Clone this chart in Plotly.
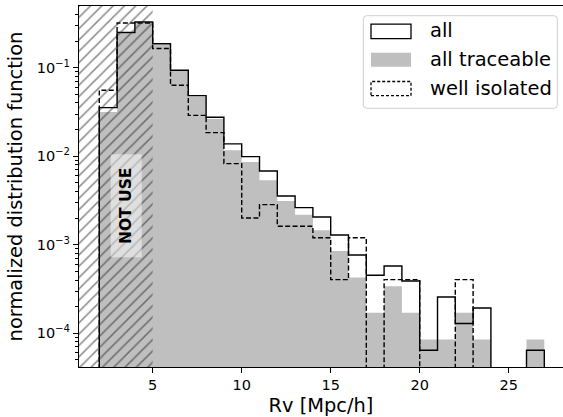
import plotly.graph_objects as go

# ---------------- data ----------------
BIN_EDGES = list(range(2, 28))  # bins of width 1 from 2 to 27 Mpc/h

ALL = [0.0355, 0.25, 0.329, 0.187, 0.0937, 0.0485, 0.0276, 0.0138, 0.0099,
       0.00682, 0.00356, 0.00263, 0.00206, 0.00129, 7.67e-4, 4.52e-4, 5.75e-4,
       3.9e-4, 6.43e-5, 2.57e-4, 1.29e-4, 1.93e-4, 0, 0, 6.43e-5]

ALL_TRACEABLE = [0.0317, 0.245, 0.32, 0.182, 0.092, 0.0475, 0.0264, 0.0117,
                 0.00863, 0.00536, 0.00313, 0.00219, 0.00146, 8.5e-4, 4.26e-4,
                 1.71e-4, 3.4e-4, 1.71e-4, 8.5e-5, 8.5e-5, 1.71e-4, 8.5e-5,
                 0, 0, 8.5e-5]

WELL_ISOLATED = [0.0557, 0.321, 0.321, 0.165, 0.0634, 0.029, 0.0185, 0.00826,
                 0.00201, 0.00284, 0.00162, 0.00162, 0.0012, 4.04e-4, 0.0012,
                 0, 4.04e-4, 4.04e-4, 0, 0, 4.04e-4, 0, 0, 0, 0]

X_TICKS = [5, 10, 15, 20, 25]
Y_TICKS = [1e-4, 1e-3, 1e-2, 1e-1]
Y_TICK_LABELS = ["10<sup>−4</sup>", "10<sup>−3</sup>", "10<sup>−2</sup>", "10<sup>−1</sup>"]
SERIES_NAMES = ["all", "all traceable", "well isolated"]
NOT_USE_LIMIT = 5  # Rv below this is marked "NOT USE"

# ---------------- layout constants ----------------
W, H = 563, 417
ML, MR, MT, MB = 79, 0, 6, 50
PW, PH = W - ML - MR, H - MT - MB
X_RANGE = [0.86, 28.05]
Y_RANGE = [-4.381, -0.302]
FLOOR = 1e-7
FONT = "DejaVu Sans"


def px_x(p):
    return (p - ML) / PW


def px_y(p):
    return 1 - (p - MT) / PH


def step_path(values):
    xs = [BIN_EDGES[0]] + BIN_EDGES[:-1] + [BIN_EDGES[-1]]
    ys = [FLOOR] + [v if v > 0 else FLOOR for v in values] + [FLOOR]
    return xs, ys


fig = go.Figure()

# filled gray histogram (all traceable)
xs, ys = step_path(ALL_TRACEABLE)
fig.add_trace(go.Scatter(x=xs, y=ys, mode="lines", line=dict(width=0, shape="hv"),
                         fill="toself", fillcolor="#bfbfbf", showlegend=False,
                         hoverinfo="skip", name=SERIES_NAMES[1]))
# all (solid step)
xs, ys = step_path(ALL)
fig.add_trace(go.Scatter(x=xs, y=ys, mode="lines",
                         line=dict(width=1.4, color="black", shape="hv"),
                         showlegend=False, hoverinfo="skip", name=SERIES_NAMES[0]))
# well isolated (dashed step)
xs, ys = step_path(WELL_ISOLATED)
fig.add_trace(go.Scatter(x=xs, y=ys, mode="lines",
                         line=dict(width=1.4, color="black", shape="hv", dash="5px,2.4px"),
                         showlegend=False, hoverinfo="skip", name=SERIES_NAMES[2]))
# hatched "not use" region
fig.add_trace(go.Scatter(x=[0, NOT_USE_LIMIT, NOT_USE_LIMIT, 0],
                         y=[FLOOR, FLOOR, 10, 10], mode="lines",
                         line=dict(width=0), fill="toself",
                         fillcolor="rgba(0,0,0,0)",
                         fillpattern=dict(shape="/", fgcolor="#222222",
                                          bgcolor="rgba(0,0,0,0)", size=8,
                                          solidity=0.2),
                         showlegend=False, hoverinfo="skip"))

minor_vals = [m * 10.0 ** e for e in range(-5, 0) for m in range(2, 10)]

fig.update_layout(
    width=W, height=H,
    margin=dict(l=ML, r=MR, t=MT, b=MB),
    paper_bgcolor="white", plot_bgcolor="white",
    font=dict(family=FONT, color="black"),
    showlegend=False,
    xaxis=dict(range=X_RANGE, tickvals=X_TICKS, ticks="outside", ticklen=5,
               tickwidth=1.1, tickcolor="black", showgrid=False, zeroline=False,
               showline=True, linecolor="black", linewidth=1.1, mirror=True,
               tickfont=dict(size=14.5, family=FONT), automargin=False,
               title=dict(text="Rv [Mpc/h]", font=dict(size=19.4, family=FONT),
                          standoff=6)),
    yaxis=dict(type="log", range=Y_RANGE, tickvals=Y_TICKS, ticktext=Y_TICK_LABELS,
               ticks="outside", ticklen=5, tickwidth=1.1, tickcolor="black",
               showgrid=False, zeroline=False, showline=True, linecolor="black",
               linewidth=1.1, mirror=False, automargin=False,
               tickfont=dict(size=14.5, family=FONT),
               minor=dict(tickvals=minor_vals, ticks="outside", ticklen=2.8,
                          tickwidth=0.8, tickcolor="black", showgrid=False),
               title=dict(text="normalized distribution function",
                          font=dict(size=19.4, family=FONT), standoff=8)),
)

# "NOT USE" label
fig.add_annotation(x=3.5, y=-2.554, xref="x", yref="y", text="<b>NOT USE</b>",
                   textangle=-90, showarrow=False,
                   font=dict(size=15.5, family=FONT, color="black"),
                   bgcolor="rgba(255,255,255,0.5)", width=100, height=28,
                   borderpad=1.5, borderwidth=0)

# ---------------- legend (drawn manually to match swatch shapes) ----------------
bx0, bx1, by0, by1, r = 363.3, 557.3, 15.7, 108.3, 3.5
rx, ry = r / PW, r / PH
X0, X1, Y0, Y1 = px_x(bx0), px_x(bx1), px_y(by0), px_y(by1)
path = (f"M{X0+rx},{Y0} L{X1-rx},{Y0} Q{X1},{Y0} {X1},{Y0-ry} "
        f"L{X1},{Y1+ry} Q{X1},{Y1} {X1-rx},{Y1} L{X0+rx},{Y1} "
        f"Q{X0},{Y1} {X0},{Y1+ry} L{X0},{Y0-ry} Q{X0},{Y0} {X0+rx},{Y0} Z")
fig.add_shape(type="path", path=path, xref="paper", yref="paper",
              fillcolor="rgba(255,255,255,0.8)", line=dict(color="#d0d0d0", width=1))

sw_x0, sw_x1 = 371, 411
rows = [(24.2, 38.6), (52.8, 66.8), (81.5, 95.7)]
styles = [
    dict(fillcolor="white", line=dict(color="black", width=1.3)),
    dict(fillcolor="#bfbfbf", line=dict(width=0)),
    dict(fillcolor="white", line=dict(color="black", width=1.3, dash="3px,2px")),
]
for (t, b), st, name in zip(rows, styles, SERIES_NAMES):
    fig.add_shape(type="rect", xref="paper", yref="paper",
                  x0=px_x(sw_x0), x1=px_x(sw_x1), y0=px_y(b), y1=px_y(t), **st)
    fig.add_annotation(x=px_x(427.7), y=px_y((t + b) / 2 - 0.5), xref="paper",
                       yref="paper", text=name, showarrow=False, xanchor="left",
                       yanchor="middle", font=dict(size=19.5, family=FONT, color="black"))

fig.write_html("out.html", config={"displayModeBar": False},
               post_script="document.body.style.margin='0';document.body.style.padding='0';")
